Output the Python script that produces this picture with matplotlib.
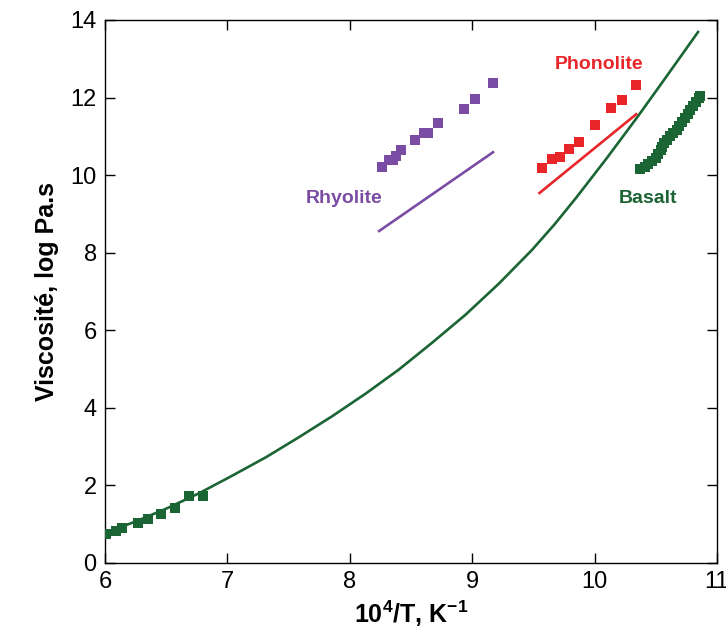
import matplotlib
matplotlib.use("Agg")
import matplotlib.pyplot as plt

plt.rcParams['font.family'] = ['Liberation Sans', 'DejaVu Sans']
plt.rcParams['mathtext.default'] = 'regular'

GREEN = '#1b6434'
PURPLE = '#7b4ca3'
RED = '#e8262a'

# model curve (green)
curve_x = [6.0, 6.25, 6.5, 6.77, 7.045, 7.317, 7.588, 7.859, 8.131, 8.402, 8.673, 8.945,
           9.217, 9.488, 9.67, 9.85, 10.1, 10.35, 10.6, 10.845]
curve_y = [0.77, 1.07, 1.40, 1.80, 2.26, 2.73, 3.25, 3.79, 4.37, 4.99, 5.68, 6.40,
           7.20, 8.07, 8.72, 9.42, 10.44, 11.50, 12.60, 13.69]

# basalt measurements
basalt_lo_x = [6.01, 6.09, 6.14, 6.27, 6.35, 6.46, 6.57, 6.69, 6.80]
basalt_lo_y = [0.75, 0.83, 0.89, 1.04, 1.13, 1.26, 1.42, 1.72, 1.72]
basalt_hi_x = [10.37, 10.41, 10.44, 10.47, 10.50, 10.52, 10.54, 10.55, 10.57, 10.59, 10.62,
               10.64, 10.67, 10.69, 10.71, 10.74, 10.76, 10.78, 10.80, 10.83, 10.85, 10.86]
basalt_hi_y = [10.15, 10.21, 10.28, 10.36, 10.44, 10.54, 10.64, 10.72, 10.82, 10.90, 11.00,
               11.08, 11.16, 11.26, 11.37, 11.47, 11.57, 11.68, 11.78, 11.88, 12.00, 12.05]

# rhyolite
rhy_x = [8.26, 8.32, 8.35, 8.38, 8.42, 8.53, 8.61, 8.64, 8.72, 8.93, 9.02, 9.17]
rhy_y = [10.21, 10.39, 10.39, 10.49, 10.64, 10.90, 11.09, 11.09, 11.35, 11.70, 11.96, 12.38]
rhy_line_x = [8.24, 9.17]
rhy_line_y = [8.56, 10.59]

# phonolite
pho_x = [9.57, 9.65, 9.72, 9.79, 9.87, 10.00, 10.13, 10.22, 10.34]
pho_y = [10.18, 10.41, 10.47, 10.68, 10.86, 11.29, 11.73, 11.95, 12.32]
pho_line_x = [9.55, 10.34]
pho_line_y = [9.54, 11.57]

fig = plt.figure(figsize=(7.26, 6.41), dpi=100)
ax = fig.add_axes([0.1446, 0.1217, 0.8430, 0.8471])

ax.plot(curve_x, curve_y, color=GREEN, lw=1.9, zorder=2)
ax.plot(basalt_lo_x, basalt_lo_y, 's', color=GREEN, ms=7, mew=0, zorder=3)
ax.plot(basalt_hi_x, basalt_hi_y, 's', color=GREEN, ms=7, mew=0, zorder=3)
ax.plot(rhy_x, rhy_y, 's', color=PURPLE, ms=7, mew=0, zorder=3)
ax.plot(rhy_line_x, rhy_line_y, color=PURPLE, lw=1.9)
ax.plot(pho_x, pho_y, 's', color=RED, ms=7, mew=0, zorder=3)
ax.plot(pho_line_x, pho_line_y, color=RED, lw=1.9)

ax.text(7.95, 9.41, 'Rhyolite', color=PURPLE, fontsize=14, fontweight='bold', ha='center', va='center')
ax.text(10.04, 12.84, 'Phonolite', color=RED, fontsize=14, fontweight='bold', ha='center', va='center')
ax.text(10.44, 9.41, 'Basalt', color=GREEN, fontsize=14, fontweight='bold', ha='center', va='center')

ax.set_xlim(6, 11)
ax.set_ylim(0, 14)
ax.set_xticks([6, 7, 8, 9, 10, 11])
ax.set_yticks(range(0, 15, 2))
ax.tick_params(direction='in', top=True, right=True, length=7, width=1, labelsize=17, pad=6)
for s in ax.spines.values():
    s.set_linewidth(1)

ax.set_xlabel('10$^4$/T, K$^{-1}$', fontsize=18, fontweight='bold', labelpad=4)
ax.set_ylabel('Viscosité, log Pa.s', fontsize=18, fontweight='bold', labelpad=8)

fig.savefig('out.png', dpi=100)
